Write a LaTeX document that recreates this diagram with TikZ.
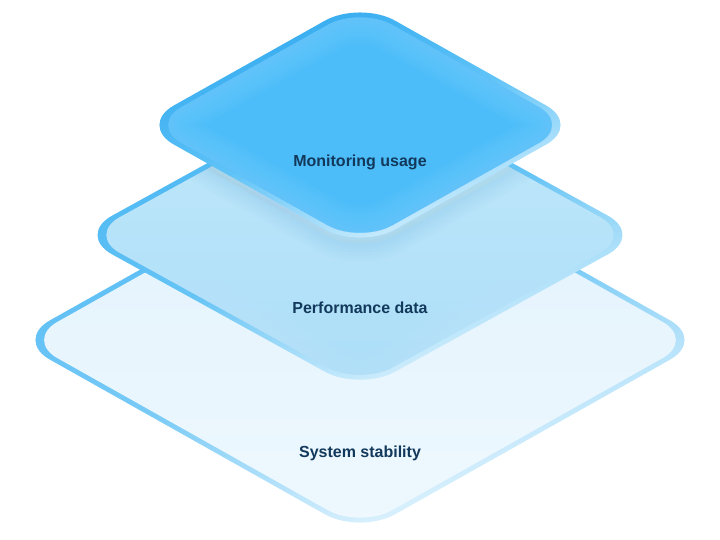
\documentclass[tikz,border=0pt]{standalone}
\usepackage{fontspec}
\setmainfont{Liberation Sans}
\usepackage{tikz}
\definecolor{ink}{HTML}{12395B}
\definecolor{topedge}{HTML}{2EA7EE}
\definecolor{topmid}{HTML}{5FC3F7}
\definecolor{toplow}{HTML}{E8F7FE}
\definecolor{topfill}{HTML}{4CBDF9}
\definecolor{toprim}{HTML}{7DD0FA}
\definecolor{midedge}{HTML}{45B5F3}
\definecolor{midmid}{HTML}{66C4F5}
\definecolor{midlow}{HTML}{EEF9FE}
\definecolor{midfill}{HTML}{ABDEF8}
\definecolor{midrim}{HTML}{C2E8FA}
\definecolor{botedge}{HTML}{4FB9F5}
\definecolor{botmid}{HTML}{7ACBF6}
\definecolor{botlow}{HTML}{F7FCFF}
\definecolor{botfill}{HTML}{E2F2FC}
\definecolor{botrim}{HTML}{EEF8FE}
\definecolor{shadowc}{HTML}{3A9FDC}
% rounded rhombus: centre x, centre y, half width, half height
\newcommand{\rhomb}[4]{(#1-#3/2,#2-#4/2) -- (#1,#2-#4) -- (#1+#3,#2) -- (#1,#2+#4) -- (#1-#3,#2) -- cycle}

\begin{document}
\begin{tikzpicture}[
          x=1pt, y=-1pt,
          lbl/.style={font=\bfseries\fontsize{16}{19}\selectfont, text=ink},
          outer/.style={rounded corners=40pt, shading angle=20},
          inner/.style={rounded corners=37pt},
        ]
          \useasboundingbox (0,0) rectangle (720,539);

          % bottom slab
          \shade[top color=botedge, bottom color=botlow, middle color=botmid, outer]
            \rhomb{360}{340}{345}{194};
          \shade[inner, top color=botfill, bottom color=botrim]
            \rhomb{360}{340}{334.8}{188.3};

          % middle slab
          \shade[top color=midedge, bottom color=midlow, middle color=midmid, outer]
            \rhomb{360}{235}{283}{156};
          \shade[inner, top color=midrim, bottom color=midfill]
            \rhomb{360}{235}{272.6}{150.3};
          \begin{scope}
            \clip[inner] \rhomb{360}{235}{272.6}{150.3};
            \foreach \w in {8,16,...,48}
              \draw[inner, midrim, line width=\w pt, opacity=0.07] \rhomb{360}{235}{272.6}{150.3};
            % shadow of the top slab
            \foreach \w in {6,12,...,36}
              \draw[outer, shadowc, line width=\w pt, opacity=0.025] \rhomb{360}{131}{221}{124};
          \end{scope}

          % top slab
          \shade[top color=topedge, bottom color=toplow, middle color=topmid, outer]
            \rhomb{360}{125}{221}{124};
          \fill[inner, topfill] \rhomb{360}{125}{210.8}{118.3};
          \begin{scope}
            \clip[inner] \rhomb{360}{125}{210.8}{118.3};
            \foreach \w in {6,12,...,54}
              \draw[inner, toprim, line width=\w pt, opacity=0.07] \rhomb{360}{125}{210.8}{118.3};
          \end{scope}

          \node[lbl] (mon) at (360,162) {Monitoring usage};
          \node[lbl] (perf) at (360,308) {Performance data};
          \node[lbl] (stab) at (360,453) {System stability};
        \end{tikzpicture}
\end{document}
